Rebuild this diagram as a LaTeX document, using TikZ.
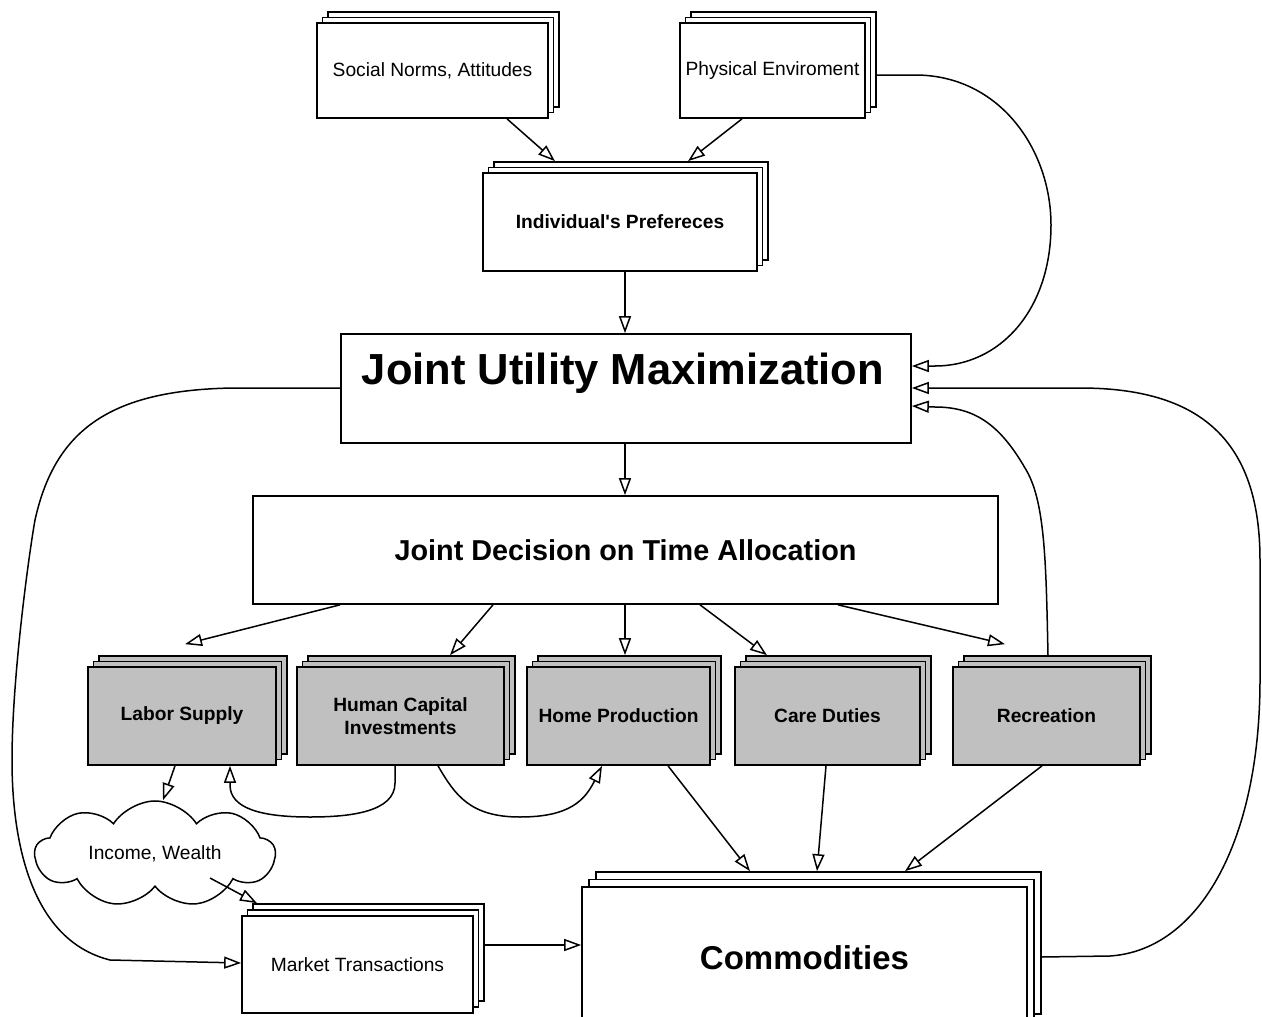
\documentclass[tikz,border=0pt]{standalone}
\usepackage{fontspec}
\setmainfont{Liberation Sans}[Ligatures=TeXOff]
\usetikzlibrary{arrows.meta,calc,shapes.symbols}
\definecolor{boxgray}{RGB}{192,192,192}
\tikzset{
  base/.style={draw=black, line width=1.7pt, inner sep=0pt, align=center},
  wbox/.style={base, fill=white},
  gbox/.style={base, fill=boxgray},
  conn/.style={line width=1.5pt, -{Triangle[length=17pt,width=12pt,fill=white]}},
  reg/.style={font=\fontsize{19.2}{23}\selectfont},
  bld/.style={font=\fontsize{19.2}{23}\selectfont\bfseries},
}
% #1 style, #2 name, #3 x, #4 y, #5 width, #6 height, #7 text, #8 dx, #9 dy
\newcommand\stk[9]{%
  \node[#1, minimum width=#5pt, minimum height=#6pt] (#2c) at (#3+2*#8,#4-2*#9) {};
  \node[#1, minimum width=#5pt, minimum height=#6pt] (#2b) at (#3+#8,#4-#9) {};
  \node[#1, minimum width=#5pt, minimum height=#6pt] (#2) at (#3,#4) {#7};}
\begin{document}
\begin{tikzpicture}[x=1pt,y=-1pt]
\clip (0,0) rectangle (1262,1017);
\fill[white] (0,0) rectangle (1262,1017);

% boxes
\stk{wbox,reg}{soc}{432.5}{70.5}{231}{95}{Social Norms, Attitudes}{5.5}{5.5}
\stk{wbox,reg}{phy}{772.5}{70.5}{185}{95}{Physical Enviroment}{5.5}{5.5}
\stk{wbox,bld}{ind}{620}{222}{274}{98}{Individual's Prefereces}{5.5}{5.5}
\node[wbox, minimum width=570pt, minimum height=109pt] (jum) at (626,388.5) {};
\node[font=\fontsize{43.5}{50}\selectfont\bfseries] (jumt) at (623,373) {Joint Utility Maximization};
\node[wbox, minimum width=745pt, minimum height=108pt, font=\fontsize{28.8}{33}\selectfont\bfseries] (jd) at (625.5,550) {Joint Decision on Time Allocation};
\stk{gbox,bld}{lab}{182}{716}{188}{98}{Labor Supply}{5.5}{5.5}
\stk{gbox,bld}{hum}{400.5}{716}{207}{98}{Human Capital\\Investments}{5.5}{5.5}
\stk{gbox,bld}{hom}{618.5}{716}{183}{98}{Home Production}{5.5}{5.5}
\stk{gbox,bld}{car}{827.5}{716}{185}{98}{Care Duties}{5.5}{5.5}
\stk{gbox,bld}{rec}{1046.5}{716}{187}{98}{Recreation}{5.5}{5.5}
\stk{wbox,reg}{mkt}{357.5}{964.5}{231}{97}{Market Transactions}{5.5}{6}
\stk{wbox}{com}{804.5}{958}{445}{142}{\fontsize{33}{38}\selectfont\bfseries Commodities}{7}{7.5}
\node[base, line width=1.5pt, fill=white, cloud, cloud puffs=9, cloud puff arc=115, aspect=2.5,
      minimum width=240pt, minimum height=92pt, reg] (cloud) at (155,854) {Income, Wealth};

% connectors
\draw[conn] (soc.south -| 507,0) -- (indc.north -| 555,0);
\draw[conn] (phy.south -| 742,0) -- (indc.north -| 688,0);
\draw[conn] (phyc.east |- 0,75) -- (915,75) .. controls (1000,75) and (1051,150) .. (1051,225)
   .. controls (1051,310) and (1000,366) .. (935,366) -- (jum.east |- 0,366);
\draw[conn] (ind.south -| 625,0) -- (jum.north -| 625,0);
\draw[conn] (jum.south -| 625,0) -- (jd.north -| 625,0);
\draw[conn] (jd.south -| 340,0) -- ($(labc.north -| 185,0)+(0,-11)$);
\draw[conn] (jd.south -| 493,0) -- (humc.north -| 450,0);
\draw[conn] (jd.south -| 625,0) -- (homc.north -| 625,0);
\draw[conn] (jd.south -| 700,0) -- (carc.north -| 767,0);
\draw[conn] (jd.south -| 838,0) -- ($(recc.north -| 1005,0)+(0,-11)$);
\draw[conn] (recc.north -| 1048,0) .. controls (1046,560) and (1045,500) .. (1025,468)
   .. controls (1000,425) and (975,407) .. (935,407) -- (jum.east |- 0,406);
\draw[conn] (comc.east |- 0,957) -- (1110,956) .. controls (1200,950) and (1260,840) .. (1260,680)
   -- (1260,560) .. controls (1260,440) and (1200,388) .. (1080,388) -- (jum.east |- 0,388);
\draw[conn] (jum.west |- 0,388) -- (233,388) .. controls (110,390) and (55,430) .. (35,520)
   .. controls (28,560) and (12,680) .. (12,760) .. controls (12,840) and (30,940) .. (110,960)
   -- (mkt.west |- 0,963);
\draw[conn] (lab.south -| 175,0) -- (cloud.north -| 163,0);
\draw[conn] (hum.south -| 395,0) -- (395,783) .. controls (395,812) and (350,817) .. (310,817)
   .. controls (260,817) and (230,808) .. (230,785) -- (lab.south -| 230,0);
\draw[conn] (hum.south -| 438,0) .. controls (455,795) and (470,817) .. (520,817)
   .. controls (570,817) and (585,800) .. (hom.south -| 602,0);
\draw[conn] ($(cloud.center)+(55,24)$) -- (mktc.north -| 257,0);
\draw[conn] (mktc.east |- 0,945) -- (com.west |- 0,945);
\draw[conn] (hom.south -| 668,0) -- (comc.north -| 750,0);
\draw[conn] (car.south -| 826,0) -- (comc.north -| 817,0);
\draw[conn] (rec.south -| 1042,0) -- (comc.north -| 905,0);
\end{tikzpicture}
\end{document}
